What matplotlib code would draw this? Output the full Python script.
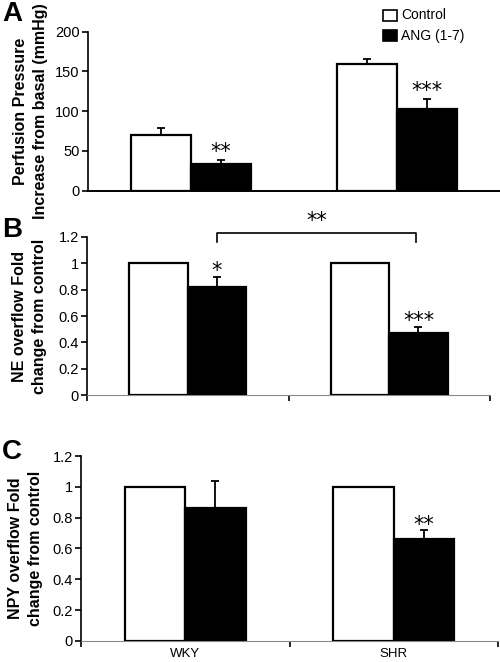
import matplotlib
matplotlib.use("Agg")
import matplotlib.pyplot as plt
import numpy as np

plt.rcParams['font.family'] = ['Liberation Sans', 'DejaVu Sans']

groups = ['WKY', 'SHR']

pp_ctrl = [70, 160]
pp_ctrl_err = [9, 6]
pp_ang = [33, 103]
pp_ang_err = [5, 12]
pp_stars = ['**', '***']

ne_ctrl = [1.0, 1.0]
ne_ang = [0.82, 0.47]
ne_ang_err = [0.08, 0.045]
ne_stars = ['*', '***']

npy_ctrl = [1.0, 1.0]
npy_ang = [0.86, 0.66]
npy_ang_err = [0.18, 0.06]
npy_stars = ['', '**']

x = np.array([0.5, 1.5])
w = 0.29

fig = plt.figure(figsize=(5, 6.62), dpi=100)
axA = fig.add_axes([0.176, 0.712, 0.824, 0.240])
axB = fig.add_axes([0.174, 0.403, 0.806, 0.239])
axC = fig.add_axes([0.162, 0.032, 0.834, 0.279])


def draw(ax, ctrl, ctrl_err, ang, ang_err, stars, ymax, yticks, ticklabels, star_off):
    ax.bar(x - w / 2, ctrl, w, color='white', edgecolor='black', linewidth=1.6, zorder=3)
    ax.bar(x + w / 2, ang, w, color='black', edgecolor='black', linewidth=1.6, zorder=3)
    if ctrl_err is not None:
        ax.errorbar(x - w / 2, ctrl, yerr=[np.zeros(2), ctrl_err], fmt='none',
                    ecolor='black', elinewidth=1.3, capsize=3, capthick=1.3, zorder=2)
    ax.errorbar(x + w / 2, ang, yerr=[np.zeros(2), ang_err], fmt='none',
                ecolor='black', elinewidth=1.3, capsize=3, capthick=1.3, zorder=2)
    for i in range(2):
        if stars[i]:
            ax.text(x[i] + w / 2, ang[i] + ang_err[i] + star_off, stars[i],
                    ha='center', va='bottom', fontsize=15, family='DejaVu Sans')
    ax.set_xlim(0, 2)
    ax.set_ylim(0, ymax)
    ax.set_yticks(yticks)
    ax.set_yticklabels(ticklabels, fontsize=10.5)
    ax.spines['top'].set_visible(False)
    ax.spines['right'].set_visible(False)
    ax.spines['left'].set_linewidth(1.2)
    ax.tick_params(axis='y', direction='out', length=4, width=1.2, pad=2)


def ylab(ax, text, xpos):
    ax.set_ylabel(text, fontsize=11.5, fontweight='bold', linespacing=1.45)
    ax.yaxis.set_label_coords(xpos, 0.5)


draw(axA, pp_ctrl, pp_ctrl_err, pp_ang, pp_ang_err, pp_stars, 200,
     [0, 50, 100, 150, 200], ['0', '50', '100', '150', '200'], -2)
axA.set_xticks([])
axA.spines['bottom'].set_linewidth(1.4)
ylab(axA, 'Perfusion Pressure\nIncrease from basal (mmHg)', -0.097)

ytk = [0, 0.2, 0.4, 0.6, 0.8, 1.0, 1.2]
ytl = ['0', '0.2', '0.4', '0.6', '0.8', '1', '1.2']

draw(axB, ne_ctrl, None, ne_ang, ne_ang_err, ne_stars, 1.2, ytk, ytl, -0.03)
axB.set_xticks([0, 1, 2])
axB.set_xticklabels([])
axB.spines['bottom'].set_color('#888888')
axB.tick_params(axis='x', direction='out', length=4, width=1.2, color='black')
ylab(axB, 'NE overflow Fold\nchange from control', -0.099)
# bracket between the two ANG bars
bx0 = x[0] + w / 2
bx1 = x[1] + w / 2 - 0.01
axB.plot([bx0, bx0, bx1, bx1], [1.165, 1.23, 1.23, 1.165], color='black',
         lw=1.2, clip_on=False)
axB.text((bx0 + bx1) / 2, 1.245, '**', ha='center', va='bottom', fontsize=15,
         family='DejaVu Sans')

draw(axC, npy_ctrl, None, npy_ang, npy_ang_err, npy_stars, 1.2, ytk, ytl, -0.03)
axC.set_xticks([0, 1, 2])
axC.set_xticklabels([])
axC.set_xticks(x, minor=True)
axC.set_xticklabels(groups, minor=True, fontsize=9.5)
axC.tick_params(axis='x', which='minor', length=0, pad=5)
axC.spines['bottom'].set_color('#888888')
axC.tick_params(axis='x', which='major', direction='out', length=4, width=1.2, color='black')
ylab(axC, 'NPY overflow Fold\nchange from control', -0.091)

fig.text(0.004, 0.999, 'A', fontsize=20, fontweight='bold', va='top')
fig.text(0.004, 0.672, 'B', fontsize=20, fontweight='bold', va='top')
fig.text(0.004, 0.337, 'C', fontsize=20, fontweight='bold', va='top')

# legend
fig.patches.append(plt.Rectangle((0.766, 0.969), 0.028, 0.016, transform=fig.transFigure,
                                 facecolor='white', edgecolor='black', lw=1.2))
fig.patches.append(plt.Rectangle((0.766, 0.938), 0.028, 0.016, transform=fig.transFigure,
                                 facecolor='black', edgecolor='black', lw=1.2))
fig.text(0.802, 0.977, 'Control', fontsize=10, va='center')
fig.text(0.802, 0.946, 'ANG (1-7)', fontsize=10, va='center')

fig.savefig('out.png', dpi=100)
